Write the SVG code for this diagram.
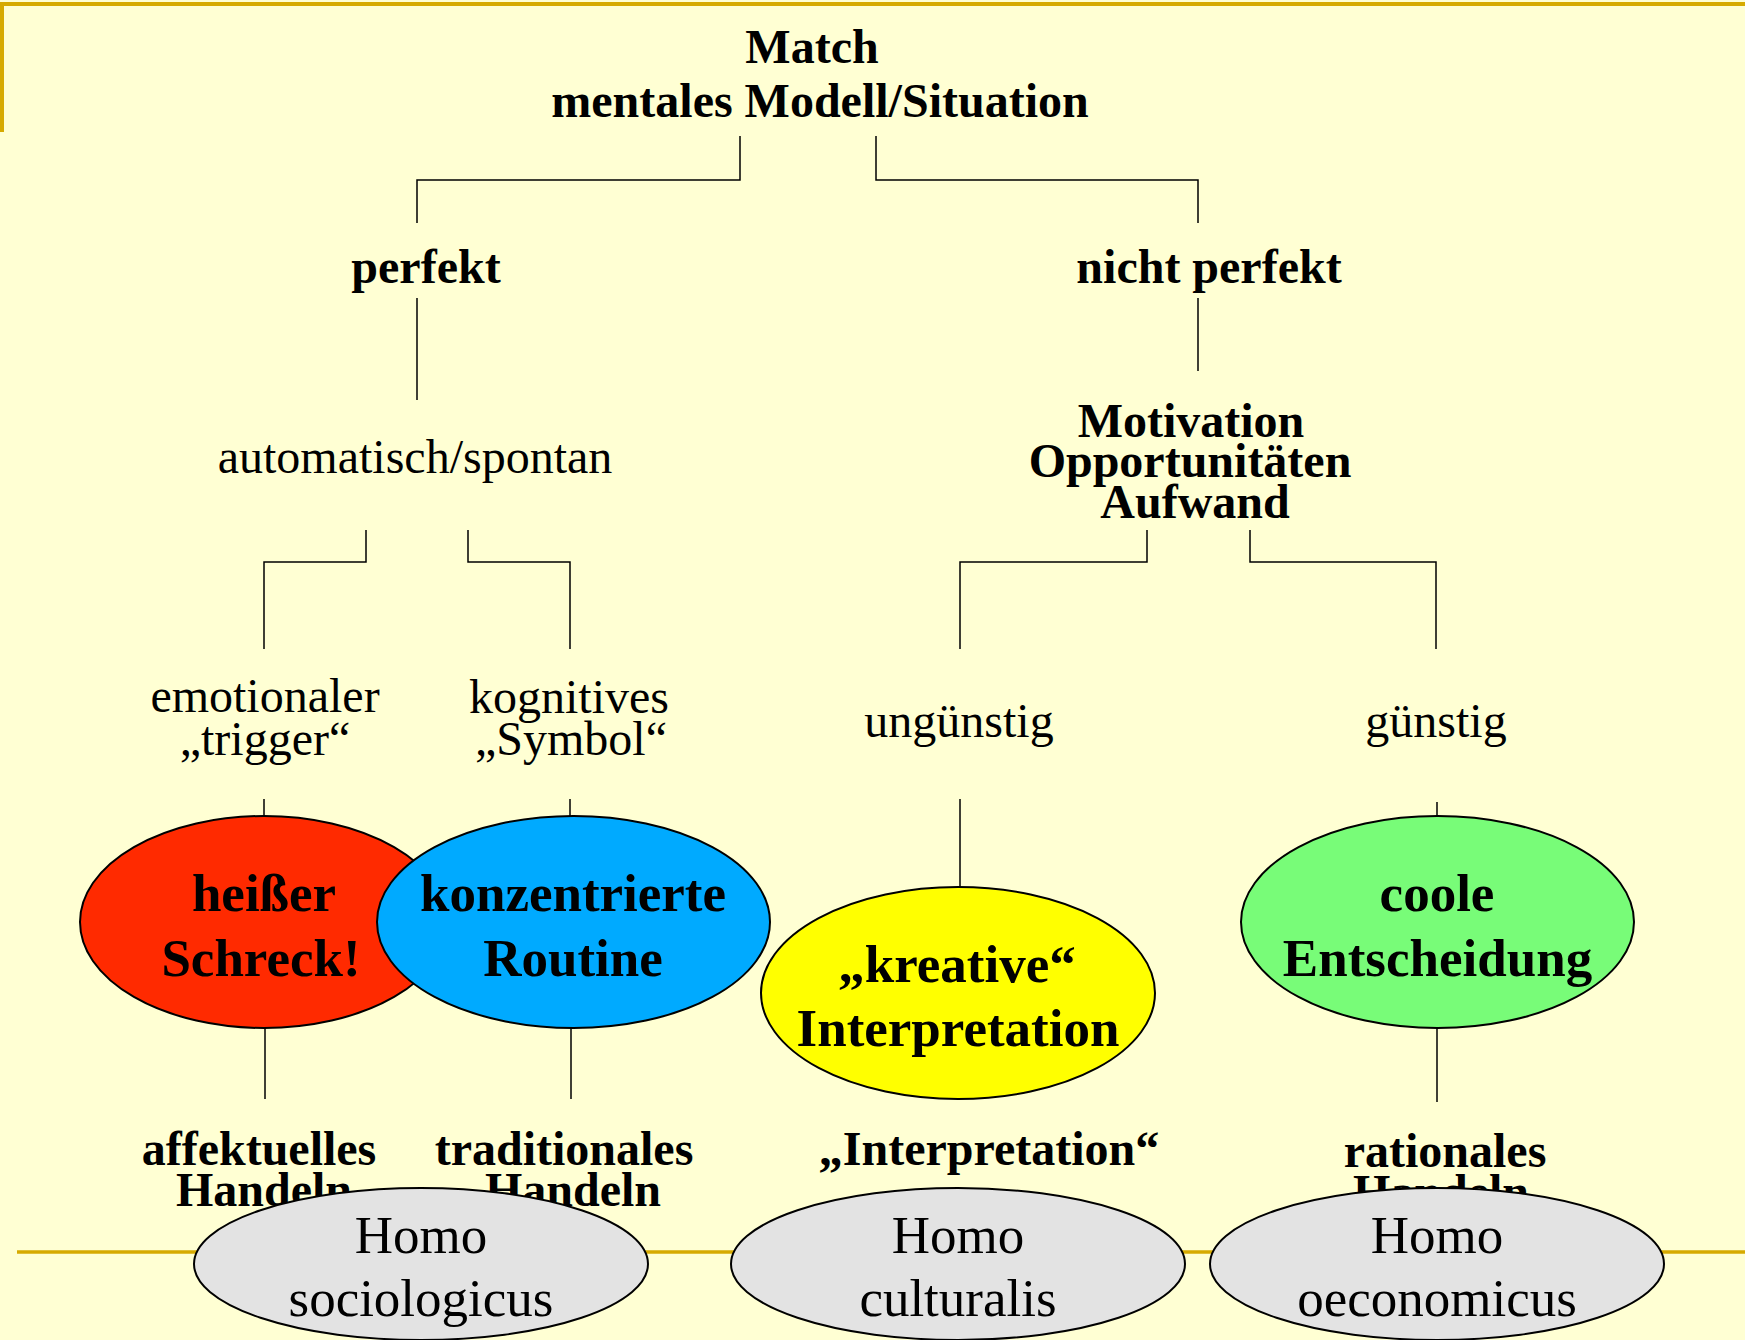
<svg xmlns="http://www.w3.org/2000/svg" width="1745" height="1340" viewBox="0 0 1745 1340">
<style>
.t{font-family:"Liberation Serif","Times New Roman",serif;fill:#000;text-anchor:middle}
.b{font-weight:bold;font-size:48px}
.r{font-size:48px}
.eb{font-weight:bold;font-size:53px}
.er{font-size:53px}
.c{fill:none;stroke:#000;stroke-width:1.5}
.e{stroke:#000;stroke-width:2}
.g{stroke:#D6AA00;fill:none}
</style>
<rect x="0" y="0" width="1745" height="1340" fill="#FFFFD3"/>
<g id="frame">
<line class="g" x1="0" y1="4" x2="1745" y2="4" stroke-width="4"/>
<line class="g" x1="2" y1="2" x2="2" y2="132" stroke-width="4"/>
<line class="g" x1="17" y1="1252" x2="1745" y2="1252" stroke-width="3.5"/>
</g>
<g id="connectors">
<polyline class="c" points="740,136 740,180 417,180 417,223"/>
<polyline class="c" points="876,136 876,180 1198,180 1198,223"/>
<line class="c" x1="417" y1="298" x2="417" y2="400"/>
<line class="c" x1="1198" y1="298" x2="1198" y2="371"/>
<polyline class="c" points="366,530 366,562 264,562 264,649"/>
<polyline class="c" points="468,530 468,562 570,562 570,649"/>
<polyline class="c" points="1147,530 1147,562 960,562 960,649"/>
<polyline class="c" points="1250,530 1250,562 1436,562 1436,649"/>
<line class="c" x1="264" y1="799" x2="264" y2="817"/>
<line class="c" x1="570" y1="799" x2="570" y2="817"/>
<line class="c" x1="960" y1="799" x2="960" y2="888"/>
<line class="c" x1="1437" y1="802" x2="1437" y2="817"/>
<line class="c" x1="265" y1="1028" x2="265" y2="1099"/>
<line class="c" x1="571" y1="1028" x2="571" y2="1099"/>
<line class="c" x1="1437" y1="1028" x2="1437" y2="1102"/>
</g>
<g id="match">
<text class="t b" x="812" y="63">Match</text>
<text class="t b" x="820" y="117">mentales Modell/Situation</text>
</g>
<g id="perfekt"><text class="t b" x="426" y="283">perfekt</text></g>
<g id="nicht-perfekt"><text class="t b" x="1209" y="283">nicht perfekt</text></g>
<g id="automatisch"><text class="t r" x="415" y="473">automatisch/spontan</text></g>
<g id="motivation">
<text class="t b" x="1191" y="437">Motivation</text>
<text class="t b" x="1190" y="477">Opportunitäten</text>
<text class="t b" x="1195" y="518">Aufwand</text>
</g>
<g id="emotionaler">
<text class="t r" x="265" y="712">emotionaler</text>
<text class="t r" x="265" y="755">„trigger“</text>
</g>
<g id="kognitives">
<text class="t r" x="569" y="713">kognitives</text>
<text class="t r" x="571" y="755">„Symbol“</text>
</g>
<g id="unguenstig"><text class="t r" x="959" y="737">ungünstig</text></g>
<g id="guenstig"><text class="t r" x="1436" y="737">günstig</text></g>
<g id="heisser-schreck">
<ellipse class="e" cx="264" cy="922" rx="184" ry="106" fill="#FF2A00"/>
<text class="t eb" x="264" y="911">heißer</text>
<text class="t eb" x="261" y="976">Schreck!</text>
</g>
<g id="konzentrierte-routine">
<ellipse class="e" cx="573.5" cy="922" rx="196.5" ry="106" fill="#00AAFF"/>
<text class="t eb" x="573" y="911">konzentrierte</text>
<text class="t eb" x="573" y="976">Routine</text>
</g>
<g id="kreative-interpretation">
<ellipse class="e" cx="958" cy="993" rx="197" ry="106" fill="#FFFF00"/>
<text class="t eb" x="957" y="982">„kreative“</text>
<text class="t eb" x="958" y="1046">Interpretation</text>
</g>
<g id="coole-entscheidung">
<ellipse class="e" cx="1437.5" cy="922" rx="196.5" ry="106" fill="#78FC78"/>
<text class="t eb" x="1437" y="911">coole</text>
<text class="t eb" x="1437.5" y="976">Entscheidung</text>
</g>
<g id="affektuelles">
<text class="t b" x="259" y="1165">affektuelles</text>
<text class="t b" x="264" y="1206">Handeln</text>
</g>
<g id="traditionales">
<text class="t b" x="564" y="1165">traditionales</text>
<text class="t b" x="573" y="1206">Handeln</text>
</g>
<g id="interpretation"><text class="t b" x="989" y="1165">„Interpretation“</text></g>
<g id="rationales">
<text class="t b" x="1445" y="1167">rationales</text>
<text class="t b" x="1441" y="1208">Handeln</text>
</g>
<g id="homo-sociologicus">
<ellipse class="e" cx="421" cy="1264" rx="227" ry="76" fill="#E3E3E3"/>
<text class="t er" x="421" y="1253">Homo</text>
<text class="t er" x="421" y="1316">sociologicus</text>
</g>
<g id="homo-culturalis">
<ellipse class="e" cx="958" cy="1264" rx="227" ry="76" fill="#E3E3E3"/>
<text class="t er" x="958" y="1253">Homo</text>
<text class="t er" x="958" y="1316">culturalis</text>
</g>
<g id="homo-oeconomicus">
<ellipse class="e" cx="1437" cy="1264" rx="227" ry="76" fill="#E3E3E3"/>
<text class="t er" x="1437" y="1253">Homo</text>
<text class="t er" x="1437" y="1316">oeconomicus</text>
</g>
</svg>
